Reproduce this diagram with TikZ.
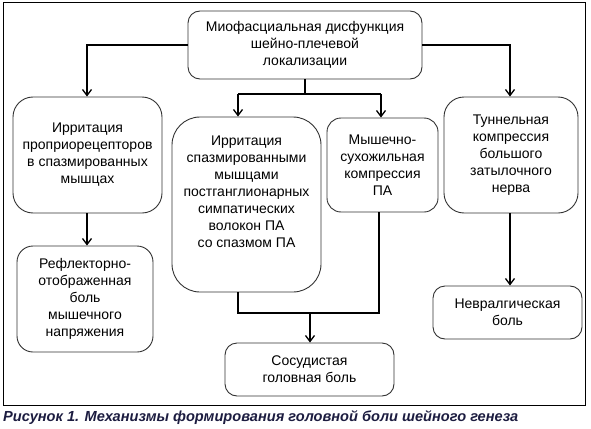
\documentclass[tikz,border=0pt]{standalone}
\usepackage{fontspec}
\setmainfont{Liberation Sans}
\usetikzlibrary{arrows.meta,calc}
\definecolor{capcol}{RGB}{28,28,64}
\definecolor{boxline}{RGB}{50,50,50}
\tikzset{
  box/.style={draw=boxline,line width=0.9pt,align=center,inner sep=0pt,
    font=\fontsize{14}{17}\selectfont},
  arr/.style={line width=1.3pt,-{Straight Barb[length=6pt,width=9pt,line width=1.3pt]}},
  ln/.style={line width=1.1pt},
}
\begin{document}
\begin{tikzpicture}[x=1pt,y=-1pt]
\useasboundingbox (0,0) rectangle (591,428);
\draw[line width=1pt] (3,3) rectangle (585,405);
\node[box,rounded corners=12pt,minimum width=234pt,minimum height=68pt] (top) at (305,45)
  {Миофасциальная дисфункция\\шейно-плечевой\\локализации};
\node[box,rounded corners=20pt,minimum width=149pt,minimum height=116pt] (b1) at (87.5,155)
  {Ирритация\\проприорецепторов\\в спазмированных\\мышцах};
\node[box,rounded corners=16pt,minimum width=136pt,minimum height=106pt] (b2) at (85,299)
  {Рефлекторно-\\отображенная\\боль\\мышечного\\напряжения};
\node[box,rounded corners=28pt,minimum width=149pt,minimum height=175pt] (b3) at (246.5,204.5)
  {Ирритация\\спазмированными\\мышцами\\постганглионарных\\симпатических\\волокон ПА\\со спазмом ПА\\[8pt]};
\node[box,rounded corners=14pt,minimum width=111pt,minimum height=94pt] (b4) at (382.5,165)
  {Мышечно-\\сухожильная\\компрессия\\ПА};
\node[box,rounded corners=20pt,minimum width=134pt,minimum height=116pt] (b5) at (511,155)
  {Туннельная\\компрессия\\большого\\затылочного\\нерва};
\node[box,rounded corners=12pt,minimum width=149pt,minimum height=53pt] (b6) at (507.5,312.5)
  {Невралгическая\\боль};
\node[box,rounded corners=12pt,minimum width=169pt,minimum height=53pt] (b7) at (309.5,369.5)
  {Сосудистая\\головная боль};
\node[anchor=west,inner sep=0pt,text=capcol,font=\fontsize{14.6}{17}\selectfont\bfseries\itshape] (cap) at (3,418)
  {Рисунок 1. Механизмы формирования головной боли шейного генеза};
% connectors
\draw[arr] (top.west) -| (b1.north -| 87,0);
\draw[arr] (top.east) -| (b5.north -| 510,0);
\coordinate (j) at (305,94);
\coordinate (jl) at (238,94);
\coordinate (jr) at (381,94);
\draw[ln] (top.south) -- (j);
\draw[ln] (jl) -- (jr);
\draw[arr] (jl) -- (jl |- b3.north);
\draw[arr] (jr) -- (jr |- b4.north);
\draw[arr] (b1.south -| 87,0) -- (b2.north -| 87,0);
\draw[arr] (b5.south -| 510,0) -- (b6.north -| 510,0);
\coordinate (kl) at (238,313);
\coordinate (kr) at (379,313);
\coordinate (k) at (310,313);
\draw[ln] (b3.south -| kl) -- (kl) -- (kr) -- (b4.south -| kr);
\draw[arr] (k) -- (k |- b7.north);
\end{tikzpicture}
\end{document}
